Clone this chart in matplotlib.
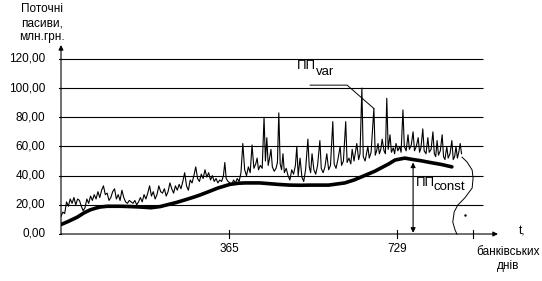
import numpy as np
import matplotlib
matplotlib.use("Agg")
import matplotlib.pyplot as plt

plt.rcParams['font.family'] = ['Liberation Sans', 'DejaVu Sans']

# щоденні поточні пасиви (ПП var), млн.грн.
var_days = [0, 4, 8, 12, 16, 20, 24, 28, 32, 36, 40, 44, 48, 52, 56, 60, 64, 68, 72, 76,
            80, 84, 88, 92, 96, 100, 104, 108, 112, 116, 120, 124, 128, 132, 136, 140, 144, 148, 152, 156,
            160, 164, 168, 172, 176, 180, 184, 188, 192, 196, 200, 204, 208, 212, 216, 220, 224, 228, 232, 236,
            240, 244, 248, 252, 256, 260, 264, 268, 272, 276, 280, 284, 288, 292, 296, 300, 304, 308, 312, 316,
            320, 324, 328, 332, 336, 340, 344, 348, 352, 355, 358, 362, 366, 370, 374, 378, 382, 386, 390, 394,
            398, 402, 406, 410, 414, 418, 422, 425, 428, 432, 436, 440, 443, 446, 449, 452, 455, 458, 462, 466,
            469, 472, 475, 478, 481, 484, 488, 492, 496, 500, 504, 508, 511, 514, 518, 522, 526, 530, 535, 538,
            541, 544, 548, 552, 556, 561, 564, 568, 572, 576, 580, 584, 589, 592, 596, 600, 605, 608, 612, 617,
            620, 624, 628, 631, 635, 641, 645, 648, 652, 655, 659, 665, 668, 672, 678, 681, 684, 687, 690, 693,
            696, 700, 703, 706, 709, 713, 716, 720, 723, 726, 730, 734, 737, 741, 744, 748, 752, 755, 759, 763,
            766, 770, 774, 777, 780, 784, 787, 791, 795, 798, 802, 806, 809, 812, 815, 818, 822, 826, 829, 832,
            836, 839, 843, 847, 850, 853, 856, 859, 862, 865, 868]
var_vals = [12, 15, 14, 22, 19, 24, 21, 25, 20, 24, 23, 19, 16, 18, 24, 21, 26, 23, 27, 24,
            29, 25, 30, 33, 27, 28, 23, 25, 29, 31, 24, 27, 23, 30, 25, 22, 21, 23, 22, 21,
            23, 20, 22, 25, 22, 27, 24, 28, 33, 26, 29, 24, 27, 33, 29, 28, 31, 26, 29, 35,
            31, 28, 33, 30, 34, 31, 36, 42, 33, 30, 37, 35, 40, 46, 38, 36, 41, 38, 44, 39,
            42, 37, 40, 36, 38, 35, 37, 36, 40, 49, 38, 36, 35, 34, 37, 35, 38, 36, 42, 62,
            44, 40, 46, 42, 61, 45, 48, 52, 44, 47, 45, 80, 50, 66, 47, 52, 58, 46, 43, 45,
            49, 83, 48, 44, 55, 42, 45, 40, 37, 44, 41, 47, 60, 40, 52, 39, 36, 44, 65, 46,
            42, 55, 44, 41, 47, 64, 45, 42, 46, 55, 44, 47, 77, 48, 45, 51, 60, 47, 50, 77,
            49, 52, 48, 58, 50, 62, 51, 55, 100, 53, 50, 60, 52, 56, 86, 54, 57, 62, 55, 58,
            65, 57, 55, 93, 58, 68, 56, 59, 55, 62, 57, 60, 56, 85, 60, 57, 68, 58, 61, 70,
            57, 60, 66, 56, 59, 72, 57, 55, 66, 56, 58, 70, 55, 53, 64, 54, 57, 68, 53, 51,
            60, 52, 55, 64, 51, 53, 60, 52, 56, 62, 55]

# стабільна частина (ПП const)
const_days = [0, 15, 35, 50, 63, 75, 85, 100, 130, 150, 171, 195, 215, 230, 250, 270, 290, 301,
              320, 340, 366, 385, 400, 431, 470, 496, 520, 540, 580, 615, 635, 650, 665, 680,
              695, 710, 724, 745, 763, 780, 800, 825, 847]
const_vals = [6.5, 8.5, 11.5, 14.5, 16.5, 17.7, 18.5, 19, 19, 18.8, 18.5, 18, 18.8, 20, 21.6, 23.5,
              25.5, 26.7, 29, 31.5, 34, 34.8, 35, 35, 34, 33.5, 33.4, 33.5, 33.5, 35, 37, 39,
              41, 43, 45.5, 48, 50.7, 52, 51, 50.2, 49, 47.6, 46]

# крива розподілу праворуч
wave_days = [869, 880, 891, 893, 891, 875, 860, 852, 849, 854, 858]
wave_vals = [52.7, 49.3, 43.8, 38.4, 31.5, 24.7, 19.9, 15.1, 8.2, 2.7, 0]

grid_vals = [20, 40, 60, 80, 100, 120]
ytick_vals = [0, 20, 40, 60, 80, 100, 120]
ytick_labels = ['0,00', '20,00', '40,00', '60,00', '80,00', '100,00', '120,00']
xtick_vals = [365, 729]

fig = plt.figure(figsize=(5.42, 2.81), dpi=100)
ax = fig.add_axes([61 / 542, 47 / 281, 437 / 542, 189 / 281])
ax.set_xlim(0, 947)
ax.set_ylim(0, 129.5)
ax.axis('off')

# сітка
ax.hlines(grid_vals, 0, 914, colors='black', lw=0.8)

# осі зі стрілками
arr = dict(arrowstyle='-|>', color='black', lw=0.8, mutation_scale=7, shrinkA=0, shrinkB=0)
ax.annotate('', xy=(947, 0), xytext=(0, 0), arrowprops=arr, annotation_clip=False)
ax.annotate('', xy=(0, 129.5), xytext=(0, 0), arrowprops=arr, annotation_clip=False)

# поділки та підписи
for v, lab in zip(ytick_vals, ytick_labels):
    ax.plot([-4, 0], [v, v], color='black', lw=0.8, clip_on=False)
    ax.text(-34, v, lab, ha='right', va='center', fontsize=8.5)
for d in xtick_vals + [893]:
    ax.plot([d, d], [-2.5, 2.5], color='black', lw=0.8, clip_on=False)
for d in xtick_vals:
    ax.text(d, -6, str(d), ha='center', va='top', fontsize=8.5)

# ряди
ax.plot(var_days, var_vals, color='black', lw=0.8)
ax.plot(const_days, const_vals, color='black', lw=2.6, solid_capstyle='round')

# ПП var
ax.text(512, 113, 'ПП', fontsize=9.5, ha='left', va='baseline')
ax.text(552, 109, 'var', fontsize=9.5, ha='left', va='baseline')
ax.plot([540, 620, 678], [102, 102, 86], color='black', lw=0.7)

# ПП const
ax.annotate('', xy=(763, 0.8), xytext=(763, 49),
            arrowprops=dict(arrowstyle='<|-|>', color='black', lw=0.8, mutation_scale=7,
                            shrinkA=0, shrinkB=0))
ax.text(769, 33, 'ПП', fontsize=9.5, ha='left', va='baseline')
ax.text(808, 30, 'const', fontsize=9.5, ha='left', va='baseline')

# крива праворуч
ax.plot(wave_days, wave_vals, color='black', lw=0.7, clip_on=False)
ax.plot([875], [13], marker='.', ms=1.5, color='black')

# назви осей
fig.text(42 / 542, 1 - 9 / 281, 'Поточні', ha='center', va='center', fontsize=8.5)
fig.text(42 / 542, 1 - 23 / 281, 'пасиви,', ha='center', va='center', fontsize=8.5)
fig.text(42 / 542, 1 - 37 / 281, 'млн.грн.', ha='center', va='center', fontsize=8.5)
fig.text(522 / 542, 1 - 232 / 281, 't,', ha='center', va='center', fontsize=8.5)
fig.text(508 / 542, 1 - 252 / 281, 'банківських', ha='center', va='center', fontsize=8.5)
fig.text(508 / 542, 1 - 266 / 281, 'днів', ha='center', va='center', fontsize=8.5)

fig.savefig('out.png', dpi=100)
